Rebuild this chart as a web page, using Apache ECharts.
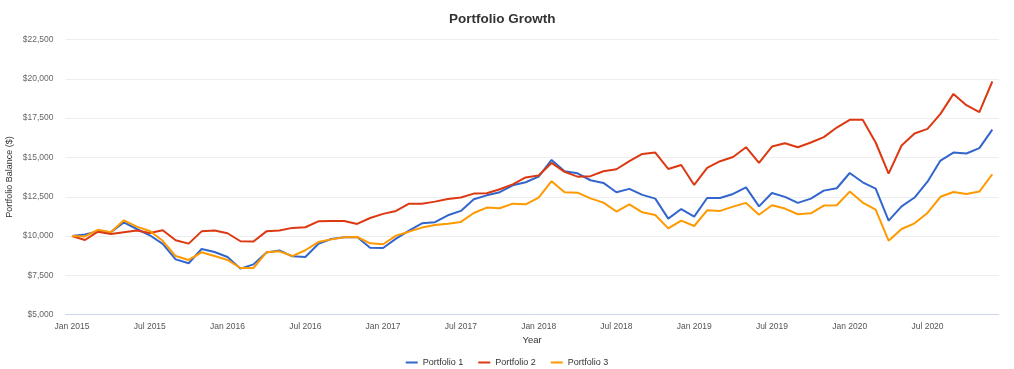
<!DOCTYPE html>
<html><head><meta charset="utf-8">
<script src="https://cdn.jsdelivr.net/npm/echarts@6/dist/echarts.min.js"></script>
<style>html,body{margin:0;padding:0;background:#fff}#c{width:1014px;height:369px}</style>
</head><body><div id="c"></div>
<script>
const months = [];
const monNames = ['Jan','Feb','Mar','Apr','May','Jun','Jul','Aug','Sep','Oct','Nov','Dec'];
for (let y = 2015; y <= 2020; y++) for (let m = 0; m < 12; m++) months.push(monNames[m] + ' ' + y);

const portfolio1 = [10000,10100,10300,10250,10870,10450,10050,9500,8520,8270,9180,8990,
  8670,7930,8200,8950,9090,8710,8670,9500,9810,9920,9940,9260,
  9240,9840,10350,10810,10880,11320,11600,12340,12590,12790,13230,13420,
  13780,14840,14120,13990,13550,13380,12790,13000,12620,12380,11110,11720,
  11240,12420,12420,12680,13100,11890,12740,12490,12110,12380,12890,13040,
  14010,13420,13020,10980,11890,12450,13460,14800,15310,15250,15590,16770];
const portfolio2 = [10000,9750,10280,10130,10240,10350,10200,10370,9730,9520,10300,10350,
  10180,9670,9650,10300,10350,10520,10560,10940,10960,10960,10770,11150,
  11410,11600,12060,12060,12190,12360,12450,12700,12720,12980,13290,13730,
  13850,14650,14080,13780,13810,14120,14250,14760,15220,15310,14270,14520,
  13250,14330,14760,15030,15650,14650,15690,15900,15650,15950,16290,16900,
  17390,17390,15950,13970,15760,16520,16820,17770,19040,18320,17880,19830];
const portfolio3 = [10000,9980,10400,10250,11000,10600,10320,9700,8730,8480,8970,8730,
  8480,7970,7970,8970,9030,8730,9100,9620,9790,9920,9940,9540,
  9480,10030,10280,10540,10710,10790,10900,11470,11810,11770,12060,12020,
  12450,13490,12790,12760,12400,12130,11560,12020,11510,11340,10490,10980,
  10640,11640,11600,11870,12110,11360,11960,11750,11390,11450,11940,11960,
  12830,12130,11680,9710,10450,10810,11470,12500,12800,12680,12830,13930];
const seriesNames = ['Portfolio 1','Portfolio 2','Portfolio 3'];
const colors = ['#3366cc','#dc3912','#ff9900'];

const chart = echarts.init(document.getElementById('c'), null, {renderer:'canvas'});
const font = 'Liberation Sans, Arial, sans-serif';
chart.setOption({
  animation: false,
  textStyle: {fontFamily: font},
  title: {text: 'Portfolio Growth', left: 444, top: 7,
    textStyle: {fontSize: 13.5, fontWeight: 'bold', color: '#333', fontFamily: font}},
  color: colors,
  grid: {left: 65.5, right: 15.2, top: 39.5, bottom: 54.3, containLabel: false, outerBoundsMode: 'none'},
  legend: {bottom: 2, left: 'center', padding: 0, icon: 'rect', itemWidth: 12, itemHeight: 2, itemGap: 15,
    textStyle: {fontSize: 9, color: '#333', fontFamily: font},
    data: seriesNames},
  xAxis: {type: 'category', data: months, boundaryGap: true,
    name: 'Year', nameLocation: 'middle', nameGap: 21, nameMoveOverlap: false,
    nameTextStyle: {fontSize: 9.5, color: '#333'},
    axisLine: {lineStyle: {color: '#ccd6eb'}},
    axisTick: {alignWithLabel: true, interval: 5, length: 6, lineStyle: {color: '#ccd6eb'}},
    axisLabel: {interval: 5, fontSize: 8.5, color: '#555', margin: 7},
    splitLine: {show: false}},
  yAxis: {type: 'value', min: 5000, max: 22500, interval: 2500,
    name: 'Portfolio Balance ($)', nameLocation: 'middle', nameGap: 51, nameMoveOverlap: false,
    nameTextStyle: {fontSize: 9, color: '#333'},
    axisLine: {show: false}, axisTick: {show: false},
    axisLabel: {fontSize: 8.5, color: '#666', margin: 12,
      formatter: v => '$' + v.toLocaleString('en-US')},
    splitLine: {lineStyle: {color: '#eeeeee'}}},
  series: [portfolio1, portfolio2, portfolio3].map((d, i) => ({
    name: seriesNames[i], type: 'line', data: d, symbol: 'none',
    lineStyle: {width: 2, color: colors[i]}, itemStyle: {color: colors[i]}
  }))
});
</script></body></html>
